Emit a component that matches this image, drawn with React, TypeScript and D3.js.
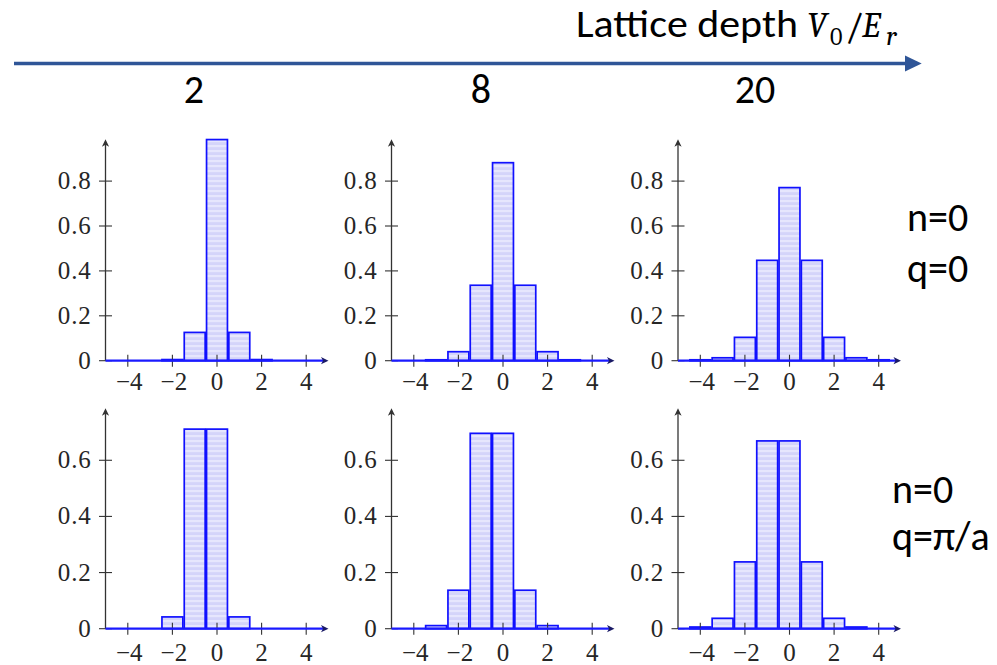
import React from "react";
import * as d3 from "d3";

// ---------- data ----------
const depthLabels = ["2", "8", "20"];
const orders = [-4, -3, -2, -1, 0, 1, 2, 3, 4];
const xTicks = [-4, -2, 0, 2, 4];
const xTickLabels = ["\u22124", "\u22122", "0", "2", "4"];
const yTicksTop = [0, 0.2, 0.4, 0.6, 0.8];
const yTicksBottom = [0, 0.2, 0.4, 0.6];
const yTickLabelsTop = ["0", "0.2", "0.4", "0.6", "0.8"];
const yTickLabelsBottom = ["0", "0.2", "0.4", "0.6"];

// q = 0 (top row)
const q0V2 = [0, 0, 0.005, 0.126, 0.985, 0.126, 0.005, 0, 0];
const q0V8 = [0, 0.004, 0.04, 0.336, 0.882, 0.336, 0.04, 0.004, 0];
const q0V20 = [0.004, 0.013, 0.104, 0.447, 0.771, 0.447, 0.104, 0.013, 0.004];
// q = pi/a (bottom row)
const qpiV2 = [0, 0, 0.042, 0.711, 0.711, 0.042, 0, 0, 0];
const qpiV8 = [0, 0.011, 0.137, 0.696, 0.696, 0.137, 0.011, 0, 0];
const qpiV20 = [0.006, 0.037, 0.238, 0.669, 0.669, 0.238, 0.037, 0.006, 0];

const topSeries = [q0V2, q0V8, q0V20];
const bottomSeries = [qpiV2, qpiV8, qpiV20];

// ---------- layout ----------
const colLeft = [105.5, 391.5, 678];
const panelW = 223;
const rowsLayout = [
  { baseline: 360.7, top: 139.3, unit: 224.5, labelDy: 29.5 },
  { baseline: 628.7, top: 408.3, unit: 280.7, labelDy: 32.3 },
];

const SERIF = "Liberation Serif, serif";
const SANS = "Carlito, Lato, sans-serif";
const MATH = "Caladea, Liberation Serif, serif";
const TXT = "#262626";
const AXIS = "#333333";

function Panel({ left, row, values, yTicks, yLabels }) {
  const L = rowsLayout[row];
  const x = d3.scaleLinear().domain([-5, 5]).range([left, left + panelW]);
  const ymax = (L.baseline - L.top) / L.unit;
  const y = d3.scaleLinear().domain([0, ymax]).range([L.baseline, L.top]);
  const x0 = x(-5);
  const y0 = y(0);
  const xEnd = x(5);
  const yTop = y(ymax);
  const inset = 0.7;
  return (
    <g>
      {orders.map((o, i) => {
        const v = values[i];
        if (!v) return null;
        const xa = x(o - 0.5) + inset;
        const xb = x(o + 0.5) - inset;
        return (
          <rect
            key={o}
            x={xa}
            y={y(v)}
            width={xb - xa}
            height={y0 - y(v)}
            fill="url(#stripes)"
            stroke="#1010ff"
            strokeWidth={1.7}
          />
        );
      })}
      <line x1={x0} y1={y0} x2={x0} y2={yTop + 4} stroke={AXIS} strokeWidth={1.3} />
      <path
        d={`M${x0},${yTop} L${x0 - 3.6},${yTop + 7.5} L${x0},${yTop + 5.5} L${x0 + 3.6},${yTop + 7.5} Z`}
        fill={AXIS}
      />
      {yTicks.map((t, i) => (
        <g key={t}>
          <line x1={x0 - 6.5} x2={x0 + 6.5} y1={y(t)} y2={y(t)} stroke={AXIS} strokeWidth={1.1} />
          <text
            x={x0 - 14}
            y={y(t) + 8}
            textAnchor="end"
            style={{ fontFamily: SERIF, fontSize: "25px", letterSpacing: "0.8px" }}
            fill={TXT}
          >
            {yLabels[i]}
          </text>
        </g>
      ))}
      {xTicks.map((t, i) => (
        <g key={t}>
          <line x1={x(t)} x2={x(t)} y1={y0 - 6} y2={y0 + 6} stroke={AXIS} strokeWidth={1.1} />
          <text
            x={x(t) + (t < 0 ? 1.5 : 0)}
            y={y0 + L.labelDy}
            textAnchor="middle"
            style={{ fontFamily: SERIF, fontSize: "25px" }}
            fill={TXT}
          >
            {xTickLabels[i]}
          </text>
        </g>
      ))}
      <line x1={x0} y1={y0} x2={xEnd - 4} y2={y0} stroke="#1a1aff" strokeWidth={2.2} />
      <path
        d={`M${xEnd},${y0} L${xEnd - 7.5},${y0 - 3.6} L${xEnd - 5.5},${y0} L${xEnd - 7.5},${y0 + 3.6} Z`}
        fill="#1a1a66"
      />
    </g>
  );
}

export default function App() {
  return (
    <svg
      width={997}
      height={665}
      style={{ position: "absolute", left: 0, top: 0, background: "#fff" }}
    >
      <defs>
        <pattern id="stripes" patternUnits="userSpaceOnUse" width={10} height={5}>
          <rect x={0} y={0} width={10} height={5} fill="#d4d4fa" />
          <rect x={0} y={0} width={10} height={2.2} fill="#e6e6fd" />
        </pattern>
      </defs>
      <rect x={0} y={0} width={997} height={665} fill="#fff" />

      {/* header */}
      <text
        x={576}
        y={36.7}
        style={{ fontFamily: SANS, fontSize: "39px" }}
        fill="#000"
        textLength={222}
        lengthAdjust="spacingAndGlyphs"
      >
        Lattice depth
      </text>
      <g style={{ fontFamily: MATH }} fill="#000">
        <text x={807} y={36.7} style={{ fontSize: "36px", fontStyle: "italic" }}>V</text>
        <text x={830} y={45} style={{ fontSize: "24px" }}>0</text>
        <text x={845} y={39} style={{ fontSize: "38px" }}>/</text>
        <text x={862} y={36.7} style={{ fontSize: "36px", fontStyle: "italic" }}>E</text>
        <text x={886} y={45} style={{ fontSize: "28px", fontStyle: "italic" }}>r</text>
      </g>
      <line x1={14} y1={63.5} x2={907} y2={63.5} stroke="#2f5597" strokeWidth={3.3} />
      <path d="M921.7,63.5 L905,55.5 L905,71.5 Z" fill="#2f5597" />
      {depthLabels.map((d, i) => (
        <text
          key={d}
          x={[194, 481, 755][i]}
          y={102.7}
          textAnchor="middle"
          style={{ fontFamily: SANS, fontSize: "40px" }}
          fill="#000"
        >
          {d}
        </text>
      ))}

      {topSeries.map((s, i) => (
        <Panel key={"t" + i} left={colLeft[i]} row={0} values={s} yTicks={yTicksTop} yLabels={yTickLabelsTop} />
      ))}
      {bottomSeries.map((s, i) => (
        <Panel key={"b" + i} left={colLeft[i]} row={1} values={s} yTicks={yTicksBottom} yLabels={yTickLabelsBottom} />
      ))}

      <g style={{ fontFamily: SANS, fontSize: "40px" }} fill="#000">
        <text x={907} y={230.7}>n=0</text>
        <text x={907} y={281.7}>q=0</text>
        <text x={892} y={502.7}>n=0</text>
        <text x={892} y={550}>q=π/a</text>
      </g>
    </svg>
  );
}
